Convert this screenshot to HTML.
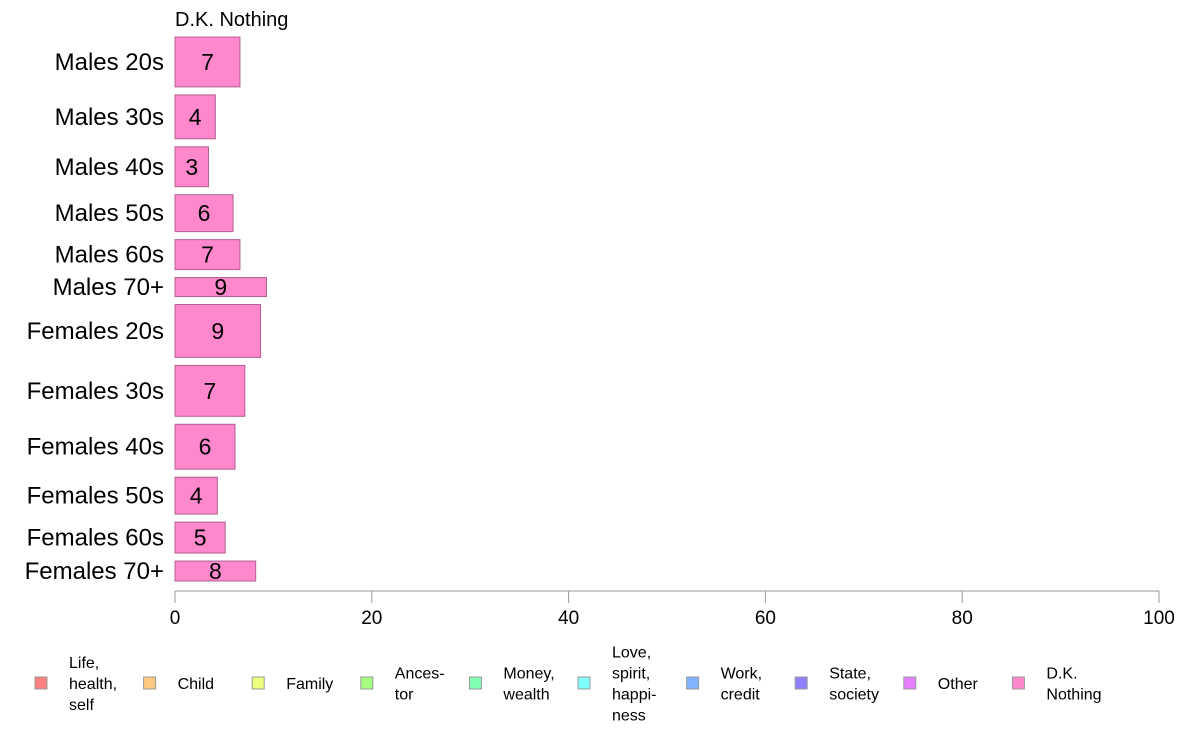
<!DOCTYPE html>
<html><head><meta charset="utf-8"><style>
body{margin:0;background:#fff;font-family:"Liberation Sans",Arial,sans-serif}
</style></head><body>
<svg width="1188" height="736" xmlns="http://www.w3.org/2000/svg" font-family="Liberation Sans, Arial, sans-serif">
<text x="175" y="26" font-size="20">D.K. Nothing</text>
<g id="bars"></g>
<g id="axis"></g>
<g id="legend"></g>
</svg>
<script>
const categories=["Males 20s","Males 30s","Males 40s","Males 50s","Males 60s","Males 70+","Females 20s","Females 30s","Females 40s","Females 50s","Females 60s","Females 70+"];
const values=[6.6,4.1,3.4,5.9,6.6,9.3,8.7,7.1,6.1,4.3,5.1,8.2];
const labels=["7","4","3","6","7","9","9","7","6","4","5","8"];
const weights=[50,44,40,37,30,19,53,51,45,37,31,20];
const ticks=[0,20,40,60,80,100];
const legendLabels=[["Life,","health,","self"],["Child"],["Family"],["Ances-","tor"],["Money,","wealth"],["Love,","spirit,","happi-","ness"],["Work,","credit"],["State,","society"],["Other"],["D.K.","Nothing"]];
const legendColors=["#ff8080","#ffc880","#eeff80","#a6ff80","#80ffb4","#80ffff","#80b4ff","#9080ff","#e680ff","#ff88cc"];
const NS="http://www.w3.org/2000/svg";
const x0=175,x1=1159,yTop=37,yBottom=581,gap=8;
const xs=v=>x0+(v-0)/(100-0)*(x1-x0);
function mk(t,a,p){const e=document.createElementNS(NS,t);for(const k in a)e.setAttribute(k,a[k]);p.appendChild(e);return e;}
const bars=document.getElementById('bars');
const tw=weights.reduce((a,b)=>a+b,0);
const avail=yBottom-yTop-gap*(categories.length-1);
let yy=yTop;
categories.forEach((c,i)=>{
 const h=weights[i]/tw*avail;
 const r=mk('rect',{x:x0,y:yy,width:xs(values[i])-x0,height:h,fill:'#ff88cc',stroke:'#b06090','stroke-width':1},bars);
 
 
 const t=mk('text',{x:(x0+xs(values[i]))/2,y:yy+h/2+8,'font-size':23,'text-anchor':'middle'},bars);
 t.textContent=labels[i];
 
 
 const l=mk('text',{x:164,y:yy+h/2+8,'font-size':24,'text-anchor':'end'},bars);
 l.textContent=c;
 
 
 yy+=h+gap;
});
const ax=document.getElementById('axis');
mk('line',{x1:x0,x2:x1,y1:591,y2:591,stroke:'#999','stroke-width':1},ax);
ticks.forEach(v=>{
 mk('line',{x1:xs(v),x2:xs(v),y1:591,y2:603,stroke:'#999'},ax);
 const t=mk('text',{x:xs(v),y:624,'font-size':19,'text-anchor':'middle'},ax);
 t.textContent=v;
 
 
});
const lg=document.getElementById('legend');
legendLabels.forEach((ls,i)=>{
 const tx=69+i*108.6;
 const g=mk('g',{},lg);
 
 
 mk('rect',{x:tx-34,y:677,width:12,height:12,fill:legendColors[i],stroke:'#999'},g);
 const n=ls.length,lh=21;
 ls.forEach((s,j)=>{
  const t=mk('text',{x:tx,y:689+(j-(n-1)/2)*lh,'font-size':16},g);
  t.textContent=s;
 });
});
</script>
</body></html>
